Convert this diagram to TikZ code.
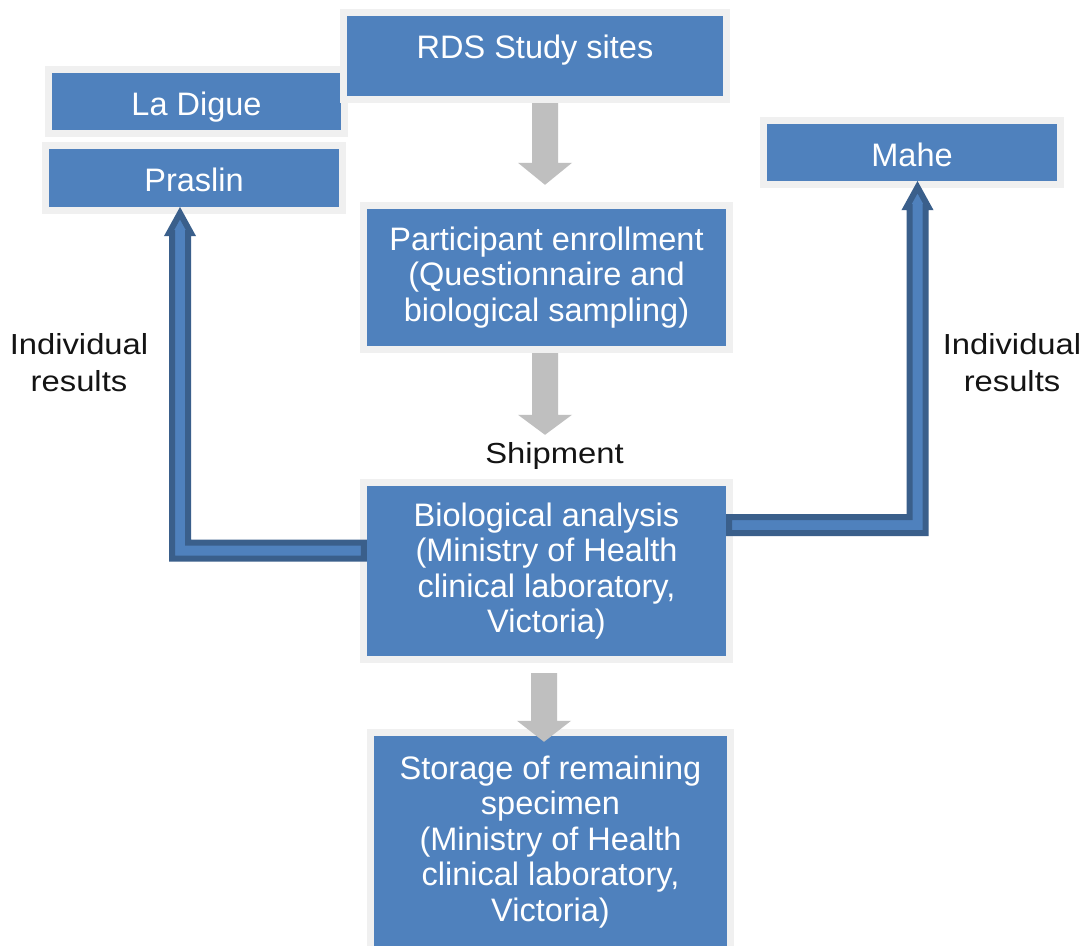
\documentclass[tikz,border=0pt]{standalone}
\usepackage{fontspec}
\setmainfont{Liberation Sans}
\newfontfamily\blackfont[FakeStretch=1.13]{Liberation Sans}
\usetikzlibrary{calc}
\definecolor{boxblue}{HTML}{4F81BD}
\definecolor{framegray}{HTML}{F0F0F0}
\definecolor{arrowgray}{HTML}{BFBFBF}
\definecolor{darkblue}{HTML}{3A5F8B}
\definecolor{labelblack}{HTML}{141414}
\newcommand\grayarr[3]{%
  \fill[grayarrow] ($(#1)+(-13,0)$) -- ($(#1)+(13,0)$) -- ($(#2)+(13,-#3)$) -- ($(#2)+(27,-#3)$) -- (#2) -- ($(#2)+(-27,-#3)$) -- ($(#2)+(-13,-#3)$) -- cycle;}
\begin{document}
\begin{tikzpicture}[x=1pt,y=-1pt,
  box/.style={rectangle, fill=boxblue, inner sep=0pt, preaction={draw=framegray, line width=14pt}, text=white, align=center, font=\fontsize{32.5}{35.5}\selectfont},
  singleline/.style={text height=27.4pt, text depth=0pt},
  boxtext/.style={text=white, align=center, inner sep=0pt, font=\fontsize{32.5}{35.5}\selectfont},
  blacklabel/.style={text=labelblack, align=center, inner sep=0pt, font=\blackfont\fontsize{29}{37.5}\selectfont},
  bluearrow/.style={fill=boxblue, draw=darkblue, line width=6pt, line join=miter},
  grayarrow/.style={fill=arrowgray}]
\useasboundingbox (0,0) rectangle (1092,945);
\clip (0,0) rectangle (1092,945);
\fill[white] (0,0) rectangle (1092,945);

\node[box, singleline, minimum width=289pt, minimum height=57pt] (ladigue) at (196.5,101.5) {La Digue};
\node[box, singleline, minimum width=290pt, minimum height=58pt] (praslin) at (194,178) {Praslin};
\node[box, minimum width=376pt, minimum height=80pt] (rds) at (535,56) {};
\node[boxtext, singleline] (rdst) at (535,45) {RDS Study sites};
\node[box, singleline, minimum width=290pt, minimum height=57pt] (mahe) at (912,152.5) {Mahe};
\node[box, minimum width=359pt, minimum height=137pt] (part) at (546.5,277.5) {Participant enrollment\\(Questionnaire and\\biological sampling)};
\node[box, minimum width=359pt, minimum height=170pt] (bio) at (546.5,571) {Biological analysis\\(Ministry of Health\\clinical laboratory,\\Victoria)};
\node[box, minimum width=353pt, minimum height=220pt] (store) at (550.5,846) {};
\node[boxtext] (storet) at (550.5,842) {Storage of remaining\\specimen\\(Ministry of Health\\clinical laboratory,\\Victoria)};

\node[blacklabel] (ship) at (554.5,456) {Shipment};
\node[blacklabel] (resl) at (79,362.5) {Individual\\results};
\node[blacklabel] (resr) at (1012,362.5) {Individual\\results};

\coordinate (g1a) at ($(rds.south)+(10,7)$);
\coordinate (g1b) at ($(part.north)+(-1.5,-24)$);
\coordinate (g2a) at ($(part.south)+(-1.5,7)$);
\coordinate (g2b) at ($(bio.north)+(-1.5,-51)$);
\coordinate (g3a) at ($(bio.south)+(-2.5,17)$);
\coordinate (g3b) at ($(store.north)+(-6.5,6)$);
\grayarr{g1a}{g1b}{22}
\grayarr{g2a}{g2b}{20}
\grayarr{g3a}{g3b}{21}

\coordinate (lA) at ($(bio.west)+(-3,-20.5)$);
\coordinate (lB) at ($(praslin.south)+(-14,0)$);
\draw[bluearrow] ($(lA)+(0,-8)$) -| ($(lB)+(8,26)$) -- ++(3,0) -- ($(lB)+(0,6)$) -- ++(-11,20) -- ++(3,0) |- ($(lA)+(0,8)$) -- cycle;

\coordinate (rA) at ($(bio.east)+(3,-46)$);
\coordinate (rB) at ($(mahe.south)+(5.5,0)$);
\draw[bluearrow] ($(rA)+(0,-8)$) -| ($(rB)+(-8,26)$) -- ++(-3,0) -- ($(rB)+(0,6)$) -- ++(11,20) -- ++(-3,0) |- ($(rA)+(0,8)$) -- cycle;
\end{tikzpicture}
\end{document}
